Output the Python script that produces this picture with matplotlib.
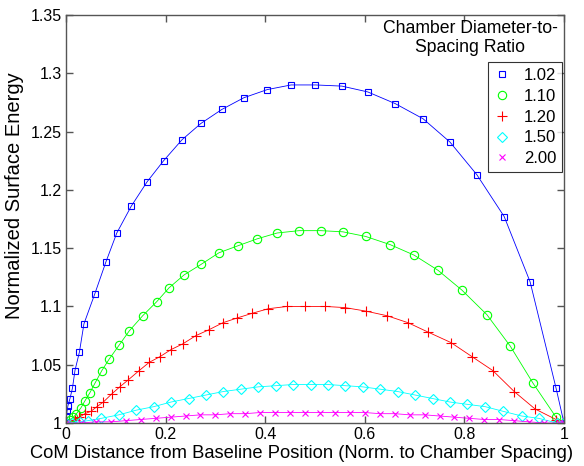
import matplotlib.pyplot as plt
from matplotlib.ticker import FormatStrFormatter

plt.rcParams['font.family'] = ['Liberation Sans', 'DejaVu Sans']

# ratio 1.02
x_102 = [0.000, 0.001, 0.002, 0.004, 0.008, 0.013, 0.018, 0.027, 0.036, 0.058,
         0.080, 0.102, 0.131, 0.163, 0.196, 0.233, 0.271, 0.313, 0.357, 0.404,
         0.452, 0.501, 0.554, 0.606, 0.661, 0.717, 0.771, 0.825, 0.880, 0.932,
         0.984, 1.000]
y_102 = [1.000, 1.006, 1.010, 1.015, 1.021, 1.030, 1.045, 1.061, 1.085, 1.111,
         1.138, 1.163, 1.186, 1.207, 1.225, 1.243, 1.257, 1.269, 1.279, 1.286,
         1.290, 1.290, 1.289, 1.284, 1.274, 1.261, 1.241, 1.213, 1.177, 1.121,
         1.030, 1.000]

# ratio 1.10
x_110 = [0.000, 0.008, 0.015, 0.021, 0.030, 0.038, 0.048, 0.058, 0.072, 0.087,
         0.107, 0.127, 0.154, 0.182, 0.207, 0.237, 0.271, 0.307, 0.345, 0.384,
         0.424, 0.468, 0.512, 0.556, 0.602, 0.651, 0.699, 0.747, 0.795, 0.845,
         0.892, 0.938, 0.984, 1.000]
y_110 = [1.000, 1.003, 1.005, 1.008, 1.013, 1.019, 1.026, 1.034, 1.045, 1.055,
         1.067, 1.079, 1.092, 1.104, 1.116, 1.127, 1.136, 1.146, 1.152, 1.158,
         1.163, 1.165, 1.165, 1.164, 1.160, 1.153, 1.144, 1.131, 1.114, 1.093,
         1.066, 1.034, 1.005, 1.000]

# ratio 1.20
x_120 = [0.000, 0.018, 0.027, 0.038, 0.050, 0.062, 0.075, 0.092, 0.108, 0.125,
         0.147, 0.167, 0.189, 0.211, 0.235, 0.261, 0.287, 0.315, 0.343, 0.373,
         0.406, 0.444, 0.480, 0.520, 0.560, 0.602, 0.645, 0.687, 0.727, 0.773,
         0.815, 0.857, 0.900, 0.942, 0.984, 1.000]
y_120 = [1.000, 1.003, 1.005, 1.008, 1.010, 1.014, 1.018, 1.025, 1.031, 1.037,
         1.045, 1.052, 1.057, 1.063, 1.068, 1.075, 1.080, 1.086, 1.090, 1.094,
         1.098, 1.100, 1.100, 1.100, 1.099, 1.096, 1.092, 1.086, 1.078, 1.069,
         1.057, 1.045, 1.027, 1.012, 1.003, 1.000]

# ratio 1.50
x_150 = [0.000, 0.012, 0.028, 0.044, 0.071, 0.106, 0.141, 0.176, 0.211, 0.246,
         0.281, 0.316, 0.351, 0.386, 0.421, 0.456, 0.491, 0.526, 0.561, 0.596,
         0.631, 0.666, 0.701, 0.736, 0.771, 0.806, 0.842, 0.878, 0.915, 0.949,
         0.986, 1.000]
y_150 = [1.000, 1.000, 1.001, 1.002, 1.004, 1.007, 1.011, 1.014, 1.018, 1.021,
         1.024, 1.027, 1.029, 1.031, 1.032, 1.033, 1.033, 1.033, 1.032, 1.031,
         1.029, 1.027, 1.024, 1.021, 1.018, 1.016, 1.014, 1.010, 1.006, 1.004,
         1.000, 1.000]

# ratio 2.00
x_200 = [0.000, 0.030, 0.060, 0.090, 0.120, 0.150, 0.180, 0.210, 0.240, 0.270,
         0.300, 0.330, 0.360, 0.390, 0.420, 0.450, 0.480, 0.510, 0.540, 0.570,
         0.600, 0.630, 0.660, 0.690, 0.720, 0.750, 0.780, 0.810, 0.840, 0.870,
         0.900, 0.930, 0.960, 0.990, 1.000]
y_200 = [1.000, 1.000, 1.001, 1.001, 1.002, 1.003, 1.004, 1.005, 1.006, 1.007,
         1.007, 1.008, 1.008, 1.009, 1.009, 1.009, 1.009, 1.009, 1.009, 1.009,
         1.009, 1.008, 1.008, 1.007, 1.007, 1.006, 1.005, 1.004, 1.003, 1.003,
         1.002, 1.001, 1.000, 1.000, 1.000]

ratio_labels = ['1.02', '1.10', '1.20', '1.50', '2.00']
series = [(x_102, y_102), (x_110, y_110), (x_120, y_120), (x_150, y_150), (x_200, y_200)]
colors = ['#0000ff', '#00ff00', '#ff0000', '#00ffff', '#ff00ff']
markers = ['s', 'o', '+', 'D', 'x']
msizes = [5.0, 6.0, 7.0, 5.0, 4.0]

x_ticks = [0, 0.2, 0.4, 0.6, 0.8, 1.0]
y_ticks = [1.0, 1.05, 1.1, 1.15, 1.2, 1.25, 1.3, 1.35]

fig = plt.figure(figsize=(5.84, 4.66), dpi=100)
ax = fig.add_axes([66 / 584, 1 - 423 / 466, 498 / 584, 408 / 466])

handles = []
for (xs, ys), label, color, marker, ms in zip(series, ratio_labels, colors, markers, msizes):
    ax.plot(xs, ys, color=color, lw=0.6)
    h, = ax.plot(
        xs, ys,
        linestyle='none',
        marker=marker,
        markersize=ms,
        markerfacecolor='none',
        markeredgecolor=color,
        markeredgewidth=0.8,
        label=label
    )
    handles.append(h)

ax.set_xlim(0, 1)
ax.set_ylim(1.0, 1.35)
ax.set_xticks(x_ticks)
ax.set_yticks(y_ticks)
ax.xaxis.set_major_formatter(FormatStrFormatter('%g'))
ax.yaxis.set_major_formatter(FormatStrFormatter('%g'))
ax.tick_params(direction='in', length=5, width=1, top=True, right=True,
               labelsize=11.5, color='#555555', pad=3)
for spine in ax.spines.values():
    spine.set_color('#555555')
    spine.set_linewidth(1.0)

ax.set_xlabel('CoM Distance from Baseline Position (Norm. to Chamber Spacing)', fontsize=13.2)
ax.xaxis.set_label_coords((302 - 66) / 498, -(453 - 423) / 408)
ax.xaxis.label.set_va('center')
ax.set_ylabel('Normalized Surface Energy', fontsize=14.5)
ax.yaxis.set_label_coords(-(66 - 15) / 498, (423 - 196) / 408)
ax.yaxis.label.set_va('center')

leg = ax.legend(
    handles=handles,
    loc='upper right',
    bbox_to_anchor=(562 / 584, 1 - 62 / 466),
    bbox_transform=fig.transFigure,
    fontsize=12,
    frameon=True,
    fancybox=False,
    handlelength=1.0,
    handletextpad=0.8,
    labelspacing=0.35,
    borderpad=0.35,
    borderaxespad=0
)
leg.get_frame().set_edgecolor('black')
leg.get_frame().set_linewidth(0.8)

fig.text(470 / 584, 1 - 38 / 466, 'Chamber Diameter-to-\nSpacing Ratio',
         ha='center', va='center', fontsize=12.7, linespacing=1.2)

fig.savefig('out.png', dpi=100)
